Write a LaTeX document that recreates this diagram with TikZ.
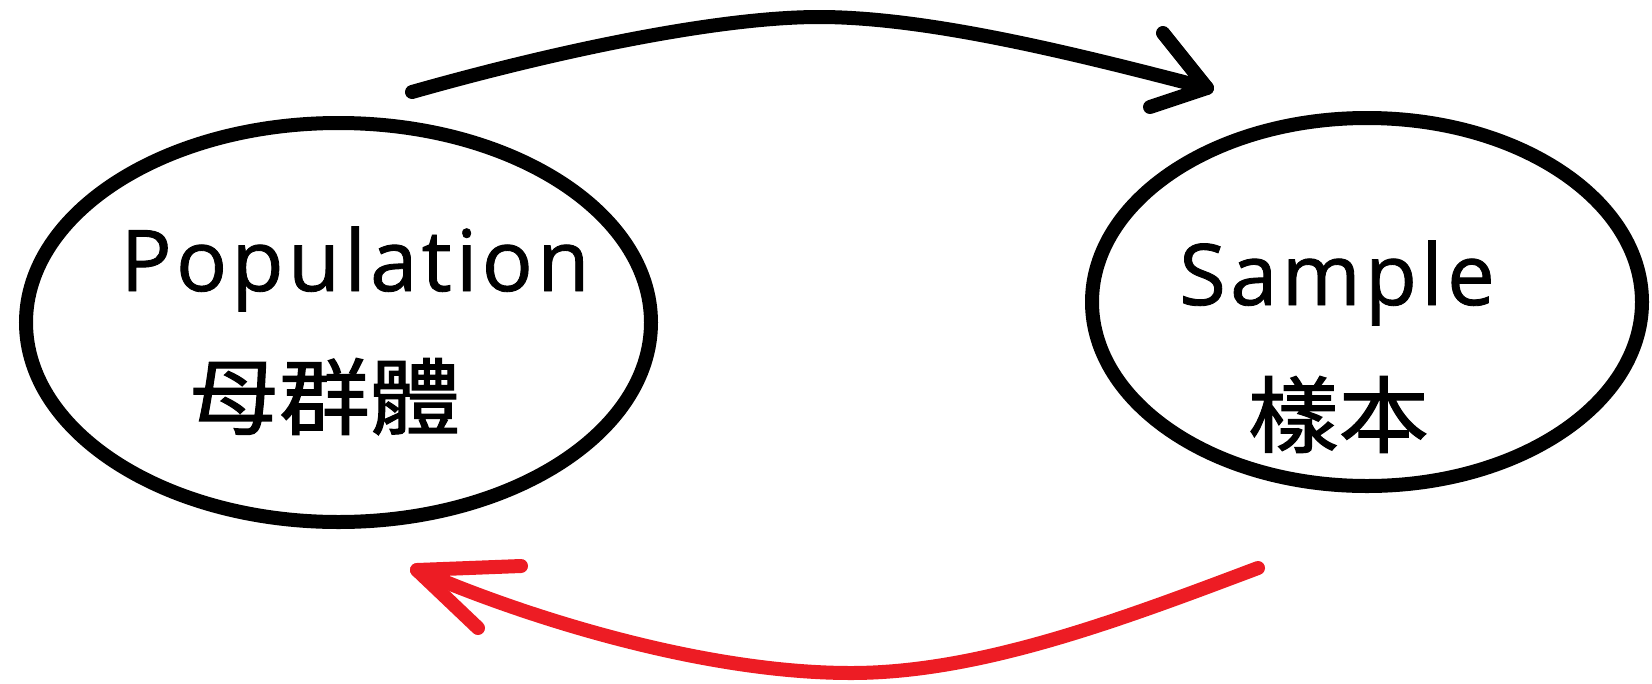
\documentclass[tikz,border=0pt]{standalone}
\usepackage{fontspec}
\setmainfont{Open Sans}[LetterSpace=5,FakeBold=1]
\newfontfamily\cjk{Noto Sans CJK TC}[FakeStretch=1.09,FakeBold=1.5]
\usetikzlibrary{shapes.geometric}
\definecolor{pred}{HTML}{ED1C24}
\begin{document}
\begin{tikzpicture}[x=1pt,y=-1pt,
  blob/.style={draw=black, line width=14pt, ellipse, inner sep=0pt, outer sep=0pt},
  lat/.style={anchor=base, inner sep=0pt, font=\fontsize{85}{100}\selectfont},
  han/.style={anchor=base, inner sep=0pt, font=\cjk\fontsize{83}{100}\selectfont},
  arr/.style={line width=14pt, line cap=round, line join=round}]
\useasboundingbox (0,0) rectangle (1652,683);
\node[blob, minimum width=625pt, minimum height=399pt] (pop) at (338.5,322.5) {};
\node[blob, minimum width=550pt, minimum height=368pt] (smp) at (1367,302) {};
\node[lat] (popen) at (355,291) {Population};
\node[han] (popzh) at (324.5,428) {母群體};
\node[lat] (smpen) at (1337,305) {Sample};
\node[han] (smpzh) at (1338.5,446) {樣本};
\coordinate (s1) at (412,92);
\coordinate (p1) at (819,17);
\coordinate (t1) at (1207,88);
\draw[arr] (s1) .. controls (560,50) and (720,17) .. (p1) .. controls (930,17) and (1080,55) .. (t1);
\draw[arr] (1163,33) -- (t1) -- (1150,107);
\coordinate (s2) at (1258,568);
\coordinate (p2) at (851,673);
\coordinate (t2) at (417,570);
\draw[arr, draw=pred] (s2) .. controls (1120,620) and (980,673) .. (p2) .. controls (700,673) and (520,615) .. (t2);
\draw[arr, draw=pred] (521,566) -- (t2) -- (478,628);
\end{tikzpicture}
\end{document}
